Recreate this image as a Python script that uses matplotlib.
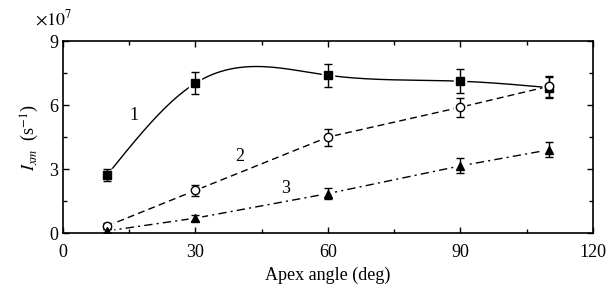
import numpy as np
import matplotlib
matplotlib.use("Agg")
import matplotlib.pyplot as plt
from matplotlib.ticker import MultipleLocator

angles = [10, 30, 60, 90, 110]
s1 = [2.72, 7.03, 7.40, 7.12, 6.82]
e1 = [0.30, 0.50, 0.55, 0.55, 0.50]
s2 = [0.33, 2.00, 4.50, 5.90, 6.88]
e2 = [0.15, 0.25, 0.40, 0.45, 0.50]
s3 = [0.10, 0.70, 1.85, 3.15, 3.90]
e3 = [0.10, 0.15, 0.25, 0.35, 0.35]
curve_labels = ["1", "2", "3"]
label_pos = [(16, 5.5), (40, 3.6), (50.5, 2.1)]


def natural_spline(x, y, xs):
    x = np.asarray(x, float); y = np.asarray(y, float)
    n = len(x)
    h = np.diff(x)
    A = np.zeros((n, n)); b = np.zeros(n)
    A[0, 0] = 1; A[-1, -1] = 1
    for i in range(1, n - 1):
        A[i, i - 1] = h[i - 1]
        A[i, i] = 2 * (h[i - 1] + h[i])
        A[i, i + 1] = h[i]
        b[i] = 3 * ((y[i + 1] - y[i]) / h[i] - (y[i] - y[i - 1]) / h[i - 1])
    c = np.linalg.solve(A, b)
    out = np.empty_like(xs)
    for k, xv in enumerate(xs):
        i = min(max(np.searchsorted(x, xv) - 1, 0), n - 2)
        dx = xv - x[i]
        bi = (y[i + 1] - y[i]) / h[i] - h[i] * (2 * c[i] + c[i + 1]) / 3
        di = (c[i + 1] - c[i]) / (3 * h[i])
        out[k] = y[i] + bi * dx + c[i] * dx ** 2 + di * dx ** 3
    return out


plt.rcParams['font.family'] = ['Liberation Serif', 'DejaVu Serif']
plt.rcParams['mathtext.fontset'] = 'stix'

fig = plt.figure(figsize=(6.09, 2.98), dpi=100)
ax = fig.add_axes([0.1034, 0.218, 0.8703, 0.644])

xs = np.linspace(angles[0], angles[-1], 300)
ax.plot(xs, natural_spline(angles, s1, xs), '-', color='black', lw=1.0, zorder=1)
ax.plot(angles, s2, '--', color='black', lw=1.0, dashes=(5, 3), zorder=1)
ax.plot(angles, s3, '-.', color='black', lw=1.0, dashes=(6, 3, 1.5, 3), zorder=1)

# white halo behind markers
for s in (s1, s2, s3):
    ax.plot(angles, s, 's' if s is s1 else 'o', ls='none', ms=9,
            color='white', zorder=2)

ax.errorbar(angles, s1, yerr=e1, fmt='s', color='black', ms=5.5,
            mfc='black', capsize=3, elinewidth=1, capthick=1, zorder=3)
ax.errorbar(angles, s2, yerr=e2, fmt='o', color='black', ms=6,
            mfc='white', capsize=3, elinewidth=1, capthick=1, zorder=3)
ax.errorbar(angles, s3, yerr=e3, fmt='^', color='black', ms=6,
            mfc='black', capsize=3, elinewidth=1, capthick=1, zorder=3)

for lab, (lx, ly) in zip(curve_labels, label_pos):
    ax.text(lx, ly, lab, fontsize=13, ha='center', va='center')

ax.set_xlim(0, 120)
ax.set_ylim(0, 9)
ax.xaxis.set_major_locator(MultipleLocator(30))
ax.xaxis.set_minor_locator(MultipleLocator(15))
ax.yaxis.set_major_locator(MultipleLocator(3))
ax.yaxis.set_minor_locator(MultipleLocator(1.5))
ax.tick_params(which='both', direction='in', top=True, right=True,
               labelsize=13, width=1)
ax.tick_params(which='major', length=4)
ax.tick_params(which='minor', length=3)
ax.tick_params(axis='x', pad=8)
for sp in ax.spines.values():
    sp.set_linewidth(1.2)

ax.set_xlabel('Apex angle (deg)', fontsize=13, labelpad=4)
ax.set_ylabel(r'$I_{xm}$  (s$^{-1}$)', fontsize=13, labelpad=6)
fig.text(0.057, 0.935, r'$\times10^7$', fontsize=13, ha='left', va='center')

fig.savefig('out.png', dpi=100)
